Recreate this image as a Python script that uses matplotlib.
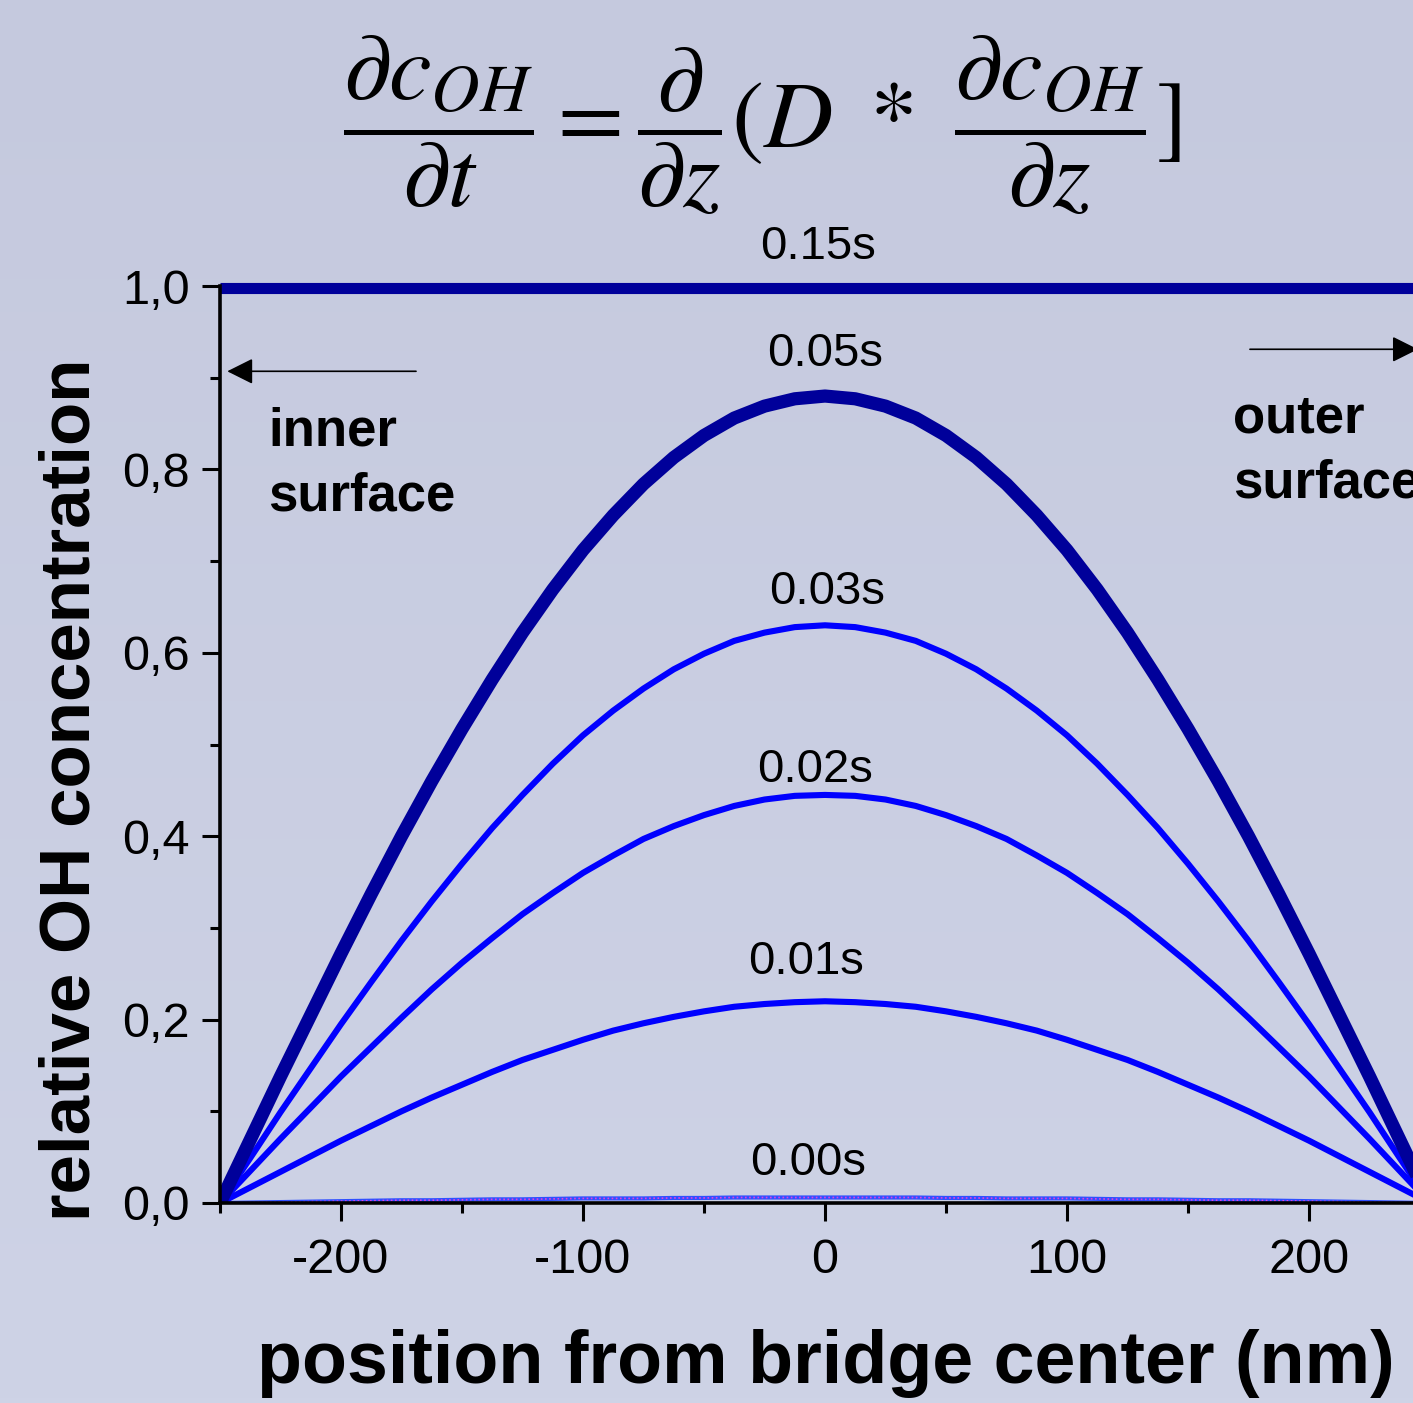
import numpy as np
import matplotlib
matplotlib.use('Agg')
from matplotlib import pyplot as plt
from matplotlib.colors import LinearSegmentedColormap

plt.rcParams['font.family'] = ['Liberation Sans', 'DejaVu Sans']
plt.rcParams['axes.unicode_minus'] = False
plt.rcParams['mathtext.fontset'] = 'stix'

# positions (nm) and profiles, every 12.5 nm
pos = [-250, -237.5, -225, -212.5, -200, -187.5, -175, -162.5, -150, -137.5,
       -125, -112.5, -100, -87.5, -75, -62.5, -50, -37.5, -25, -12.5, 0,
       12.5, 25, 37.5, 50, 62.5, 75, 87.5, 100, 112.5, 125,
       137.5, 150, 162.5, 175, 187.5, 200, 212.5, 225, 237.5, 250]
c_000 = [0, .0005, .001, .0015, .002, .0025, .003, .003, .0035, .004,
         .004, .0045, .005, .005, .005, .0055, .0055, .006, .006, .006, .006,
         .006, .006, .006, .0055, .0055, .005, .005, .005, .0045, .004,
         .004, .0035, .003, .003, .0025, .002, .0015, .001, .0005, 0]
c_001 = [0, .017, .034, .051, .068, .084, .100, .115, .129, .143,
         .156, .167, .178, .188, .196, .203, .209, .214, .217, .219, .220,
         .219, .217, .214, .209, .203, .196, .188, .178, .167, .156,
         .143, .129, .115, .100, .084, .068, .051, .034, .017, 0]
c_002 = [0, .035, .070, .104, .138, .170, .202, .233, .262, .289,
         .315, .338, .360, .379, .397, .411, .423, .433, .440, .444, .445,
         .444, .440, .433, .423, .411, .397, .379, .360, .338, .315,
         .289, .262, .233, .202, .170, .138, .104, .070, .035, 0]
c_003 = [0, .049, .099, .147, .195, .241, .286, .329, .370, .409,
         .445, .479, .510, .537, .561, .582, .599, .613, .622, .628, .630,
         .628, .622, .613, .599, .582, .561, .537, .510, .479, .445,
         .409, .370, .329, .286, .241, .195, .147, .099, .049, 0]
c_005 = [0, .069, .138, .205, .272, .337, .400, .460, .517, .571,
         .622, .669, .712, .750, .784, .813, .837, .856, .869, .877, .880,
         .877, .869, .856, .837, .813, .784, .750, .712, .669, .622,
         .571, .517, .460, .400, .337, .272, .205, .138, .069, 0]
c_015 = [0.998] * len(pos)

time_labels = ['0.00s', '0.01s', '0.02s', '0.03s', '0.05s', '0.15s']
label_x = [-7, -8, -4, 1, 0, -3]
label_y = [0.044, 0.263, 0.472, 0.666, 0.926, 1.042]

yticks = [0, 0.2, 0.4, 0.6, 0.8, 1.0]
ytick_labels = ['0,0', '0,2', '0,4', '0,6', '0,8', '1,0']
xticks = [-200, -100, 0, 100, 200]

W, H = 1413, 1403
fig = plt.figure(figsize=(W/100., H/100.), dpi=100)

# background gradient
bg = fig.add_axes([0, 0, 1, 1], zorder=-10)
grad = np.linspace(0, 1, 256).reshape(-1, 1)
cm = LinearSegmentedColormap.from_list('bg', ['#C5C9DE', '#CED3E6'])
bg.imshow(grad, aspect='auto', cmap=cm, extent=[0, 1, 0, 1], origin='upper')
bg.axis('off')

ax = fig.add_axes([220/W, 1 - 1203/H, 1210/W, 917/H])
ax.patch.set_alpha(0)

ax.plot(pos, c_000, color='#3050FF', lw=3, solid_capstyle='butt')
ax.plot(pos, c_000, color='#E040E0', lw=1.2, ls=(0, (1, 1.5)))
ax.plot(pos, c_001, color='#0000FF', lw=4.4)
ax.plot(pos, c_002, color='#0000FF', lw=4.4)
ax.plot(pos, c_003, color='#0000FF', lw=4.4)
ax.plot(pos, c_005, color='#00009A', lw=9.5)
ax.plot(pos, c_015, color='#00009A', lw=8, clip_on=False, solid_capstyle='butt')

for t, lx, ly in zip(time_labels, label_x, label_y):
    ax.text(lx, ly, t, fontsize=34, ha='center', va='center')

ax.set_xlim(-250, 250)
ax.set_ylim(0, 1)
ax.spines['top'].set_visible(False)
ax.spines['right'].set_visible(False)
ax.spines['left'].set_linewidth(2.6)
ax.spines['bottom'].set_linewidth(2.6)

ax.set_xticks(xticks)
ax.set_xticks([-250, -150, -50, 50, 150], minor=True)
ax.set_yticks(yticks)
ax.set_yticklabels(ytick_labels)
ax.set_yticks([0.1, 0.3, 0.5, 0.7, 0.9], minor=True)
ax.tick_params(which='major', direction='out', length=13, width=2.2, labelsize=35, pad=9)
ax.tick_params(which='minor', direction='out', length=7, width=2.2)
ax.tick_params(axis='x', which='major', pad=12)

# surface arrows and notes
ax.annotate('', xy=(-247, 0.907), xytext=(-169, 0.907), annotation_clip=False,
            arrowprops=dict(arrowstyle='-|>', mutation_scale=40, lw=1.2,
                            color='black', shrinkA=0, shrinkB=0))
ax.annotate('', xy=(245, 0.931), xytext=(175.6, 0.931), annotation_clip=False,
            arrowprops=dict(arrowstyle='-|>', mutation_scale=40, lw=1.2,
                            color='black', shrinkA=0, shrinkB=0))
ax.text(-230, 0.806, 'inner\nsurface', fontsize=38, fontweight='bold',
        ha='left', va='center', linespacing=1.4)
ax.text(168.6, 0.82, 'outer\nsurface', fontsize=38, fontweight='bold',
        ha='left', va='center', linespacing=1.4, clip_on=False)

fig.text(826/W, 1 - 1383/H, 'position from bridge center (nm)', fontsize=53,
         fontweight='bold', ha='center', va='baseline')
fig.text(72/W, 1 - 790/H, 'relative OH concentration', fontsize=51,
         fontweight='bold', ha='center', va='center', rotation=90)

fig.text(762/W, 1 - 125/H,
         r'$\dfrac{\partial c_{OH}}{\partial t} = \dfrac{\partial}{\partial z}(D\ *\ \dfrac{\partial c_{OH}}{\partial z}]$',
         fontsize=69, ha='center', va='center')

fig.savefig('out.png', dpi=100)
